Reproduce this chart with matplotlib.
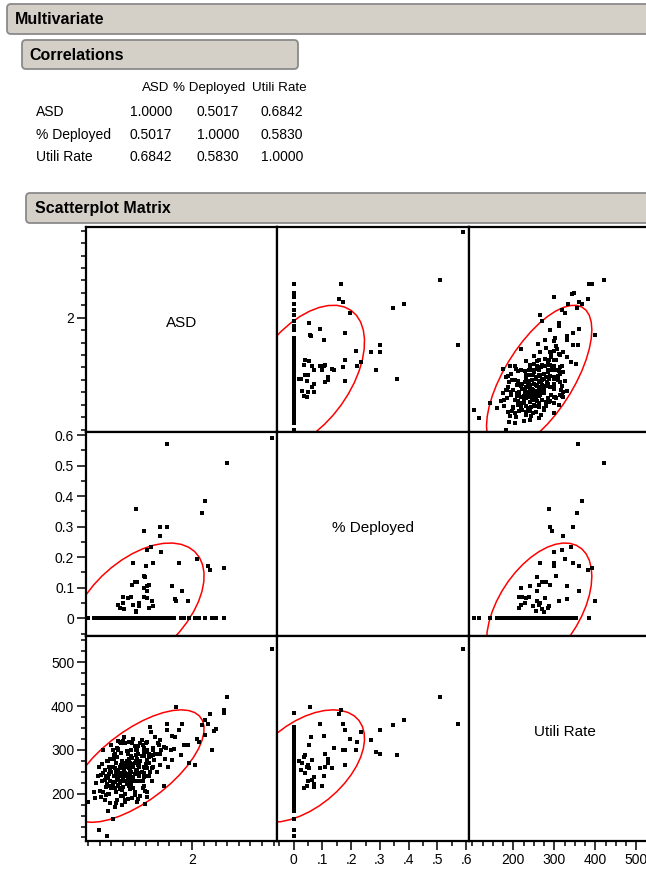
import numpy as np
import matplotlib
matplotlib.use("Agg")
import matplotlib.pyplot as plt
from matplotlib.patches import FancyBboxPatch
from matplotlib.ticker import MultipleLocator, FixedLocator, FixedFormatter

plt.rcParams['font.family'] = ['Liberation Sans', 'DejaVu Sans']

# ---------------- data ----------------
variables = ["ASD", "% Deployed", "Utili Rate"]
corr_matrix = [[1.0000, 0.5017, 0.6842],
               [0.5017, 1.0000, 0.5830],
               [0.6842, 0.5830, 1.0000]]

# observations with non-zero % Deployed
asd_nz = [2.69, 1.78, 2.30, 2.11, 2.08, 1.51, 1.72, 1.78, 1.58, 1.72,
          1.64, 1.61, 1.73, 2.04, 1.49, 1.66, 1.88, 2.13, 1.60, 2.27,
          2.15, 1.58, 1.59, 1.50, 1.52, 1.48, 1.62, 1.61, 1.82, 1.58,
          1.61, 1.91, 1.40, 1.47, 1.58, 1.44, 1.61, 1.85, 1.86, 1.65,
          1.96, 1.54, 1.40, 1.36, 1.49, 1.54, 1.66, 1.62, 1.37, 1.41,
          1.51, 1.51]
dep_nz = [0.590, 0.570, 0.510, 0.385, 0.345, 0.358, 0.300, 0.300, 0.285, 0.268,
          0.233, 0.222, 0.217, 0.195, 0.180, 0.180, 0.180, 0.170, 0.170, 0.166,
          0.158, 0.140, 0.135, 0.120, 0.118, 0.110, 0.110, 0.106, 0.106, 0.100,
          0.090, 0.090, 0.070, 0.070, 0.070, 0.065, 0.065, 0.062, 0.058, 0.055,
          0.055, 0.050, 0.050, 0.045, 0.045, 0.040, 0.040, 0.035, 0.035, 0.030,
          0.025, 0.020]
util_nz = [530, 358, 420, 368, 356, 288, 290, 345, 295, 322,
           340, 318, 300, 325, 265, 300, 345, 360, 300, 392,
           382, 305, 258, 270, 280, 262, 290, 240, 332, 218,
           258, 360, 215, 222, 238, 232, 278, 330, 398, 258,
           312, 265, 228, 218, 262, 248, 288, 284, 213, 270,
           255, 275]

# observations with zero % Deployed
asd_z = [2.27, 2.20, 2.19, 2.17, 2.11, 2.06, 2.02, 1.97, 1.93, 1.84, 1.90,
         1.10, 1.15, 1.17, 1.19, 1.18, 1.20, 1.16, 1.19,
         1.21, 1.22, 1.23, 1.24, 1.25, 1.26, 1.27, 1.22, 1.24, 1.25,
         1.26, 1.27, 1.28, 1.28, 1.29, 1.29, 1.30, 1.30, 1.23, 1.26,
         1.27, 1.28, 1.29, 1.21, 1.24,
         1.31, 1.31, 1.32, 1.32, 1.33, 1.33, 1.34, 1.34, 1.35, 1.35,
         1.36, 1.36, 1.36, 1.37, 1.37, 1.37, 1.38, 1.38, 1.38, 1.39,
         1.39, 1.39, 1.40, 1.40, 1.40, 1.31, 1.32, 1.33, 1.34, 1.35,
         1.36, 1.38, 1.39, 1.33, 1.37,
         1.41, 1.41, 1.42, 1.42, 1.42, 1.43, 1.43, 1.44, 1.44, 1.45,
         1.45, 1.46, 1.46, 1.47, 1.47, 1.48, 1.48, 1.49, 1.49, 1.50,
         1.50, 1.41, 1.43, 1.44, 1.46, 1.47, 1.48, 1.45, 1.42, 1.49,
         1.51, 1.51, 1.52, 1.53, 1.53, 1.54, 1.54, 1.55, 1.55, 1.56,
         1.57, 1.57, 1.58, 1.58, 1.59, 1.59, 1.60, 1.60, 1.52, 1.56,
         1.58, 1.53,
         1.61, 1.61, 1.62, 1.63, 1.63, 1.64, 1.65, 1.66, 1.66, 1.67,
         1.68, 1.68, 1.69, 1.70, 1.62,
         1.71, 1.71, 1.72, 1.73, 1.75, 1.75, 1.76, 1.77, 1.79, 1.81, 1.82,
         1.23, 1.25, 1.27, 1.29, 1.30, 1.31, 1.32, 1.33, 1.34, 1.35,
         1.35, 1.36, 1.37, 1.38, 1.39, 1.40, 1.41, 1.42, 1.43, 1.44,
         1.45, 1.46, 1.47, 1.48, 1.49, 1.50, 1.51, 1.52, 1.53, 1.54,
         1.55, 1.56, 1.57, 1.58, 1.59, 1.60, 1.61, 1.62, 1.26, 1.28,
         1.32, 1.34, 1.36, 1.38, 1.40, 1.42, 1.44, 1.46, 1.48, 1.50]
util_z = [384, 347, 342, 300, 334, 318, 266, 270, 312, 302, 289,
          182, 205, 225, 116, 240, 207, 190, 262,
          192, 230, 248, 232, 215, 104, 160, 268, 255, 240,
          222, 199, 262, 244, 280, 230, 212, 250, 205, 275,
          236, 218, 254, 243, 186,
          143, 299, 240, 226, 258, 212, 270, 246, 232, 284,
          299, 255, 220, 318, 241, 262, 315, 230, 248, 275,
          208, 258, 237, 268, 195, 262, 280, 226, 205, 250,
          238, 265, 242, 290, 225,
          252, 228, 316, 181, 262, 245, 275, 235, 290, 258,
          218, 270, 240, 300, 250, 228, 282, 262, 212, 245,
          308, 240, 222, 265, 255, 236, 268, 280, 248, 238,
          272, 230, 255, 187, 290, 262, 240, 315, 275, 250,
          311, 228, 285, 262, 207, 240, 295, 268, 300, 285,
          248, 266,
          299, 192, 270, 352, 250, 285, 230, 305, 262, 278,
          291, 330, 250, 315, 240,
          291, 312, 265, 300, 306, 218, 280, 305, 260, 299, 278,
          300, 196, 275, 178, 312, 220, 288, 170, 250, 305,
          185, 320, 210, 292, 175, 268, 330, 200, 298, 188,
          318, 215, 285, 190, 325, 205, 300, 182, 310, 230,
          195, 322, 212, 298, 176, 315, 205, 290, 235, 200,
          286, 178, 302, 194, 320, 185, 298, 210, 315, 196]
dep_zero_value = 0.0

asd = np.array(asd_nz + asd_z)
dep = np.array(dep_nz + [dep_zero_value] * len(asd_z))
util = np.array(util_nz + util_z)
series = [asd, dep, util]

limits = [(1.08, 2.73), (-0.058, 0.61), (92, 560)]
major_ticks = [[2], [0, 0.1, 0.2, 0.3, 0.4, 0.5, 0.6], [200, 300, 400, 500]]
left_labels = [["2"], ["0", "0.1", "0.2", "0.3", "0.4", "0.5", "0.6"], ["200", "300", "400", "500"]]
bottom_labels = [["2"], ["0", ".1", ".2", ".3", ".4", ".5", ".6"], ["200", "300", "400", "500"]]
minor_steps = [0.1, 0.05, 25]

# ---------------- layout ----------------
W, H = 646, 871
fig = plt.figure(figsize=(W / 100, H / 100), dpi=100)
fig.patch.set_facecolor("white")

bg = fig.add_axes([0, 0, 1, 1])
bg.set_xlim(0, W)
bg.set_ylim(H, 0)
bg.axis("off")

bar_face = "#d4d0c8"
bar_edge = "#8a8a8a"


def header(x, y, w, h, text, tx):
    p = FancyBboxPatch((x, y), w, h, boxstyle="round,pad=0,rounding_size=4",
                       facecolor=bar_face, edgecolor=bar_edge, linewidth=1.3)
    bg.add_patch(p)
    bg.text(tx, y + h / 2 + 0.5, text, fontsize=11.5, fontweight="bold",
            va="center", ha="left", color="black")


header(7, 4, 700, 30, "Multivariate", 15)
header(22, 40, 276, 29, "Correlations", 29)
header(26, 193, 700, 30, "Scatterplot Matrix", 35)

# correlation table
head_x = [169, 173, 307]
head_ha = ["right", "left", "right"]
val_right = [172, 239, 303]
row_y = [112, 135, 157]
for name, xr, ha in zip(variables, head_x, head_ha):
    bg.text(xr, 88, name, fontsize=9.6, ha=ha, va="center")
for i, name in enumerate(variables):
    bg.text(36, row_y[i], name, fontsize=10, ha="left", va="center")
    for j in range(3):
        bg.text(val_right[j], row_y[i], f"{corr_matrix[i][j]:.4f}", fontsize=10,
                ha="right", va="center")

# scatterplot matrix cells (pixel boxes)
col_x = [86, 277, 469, 661]
row_y_px = [227, 432, 636, 841]


def ellipse_pts(x, y, level=0.95, n=40):
    mx, my = np.mean(x), np.mean(y)
    cov = np.cov(x, y)
    vals, vecs = np.linalg.eigh(cov)
    r = np.sqrt(-2 * np.log(1 - level))
    t = np.linspace(0, 2 * np.pi, n + 1)
    circ = np.vstack([np.cos(t), np.sin(t)])
    pts = vecs @ (np.sqrt(vals)[:, None] * circ) * r
    return pts[0] + mx, pts[1] + my


for r in range(3):
    for c in range(3):
        x0, x1 = col_x[c], col_x[c + 1]
        y0, y1 = row_y_px[r], row_y_px[r + 1]
        ax = fig.add_axes([x0 / W, (H - y1) / H, (x1 - x0) / W, (y1 - y0) / H])
        ax.set_xlim(*limits[c])
        ax.set_ylim(*limits[r])
        for s in ax.spines.values():
            s.set_linewidth(1.6)
            s.set_color("black")
        ax.tick_params(which="both", direction="out", width=1.1, color="black",
                       labelsize=10, pad=2)
        ax.tick_params(which="major", length=6.5)
        ax.tick_params(which="minor", length=3.5)
        # y axis
        if c == 0:
            ax.yaxis.set_major_locator(FixedLocator(major_ticks[r]))
            ax.yaxis.set_major_formatter(FixedFormatter(left_labels[r]))
            ax.yaxis.set_minor_locator(MultipleLocator(minor_steps[r]))
        else:
            ax.tick_params(axis="y", which="both", left=False, labelleft=False)
        # x axis
        if r == 2:
            ax.xaxis.set_major_locator(FixedLocator(major_ticks[c]))
            ax.xaxis.set_major_formatter(FixedFormatter(bottom_labels[c]))
            ax.xaxis.set_minor_locator(MultipleLocator(minor_steps[c]))
        else:
            ax.tick_params(axis="x", which="both", bottom=False, labelbottom=False)

        if r == c:
            ax.text(0.5, 0.53, variables[r], transform=ax.transAxes, fontsize=11,
                    ha="center", va="center")
            continue
        xs, ys = series[c], series[r]
        ax.scatter(xs, ys, s=5.3, marker="s", c="black", linewidths=0, zorder=3)
        ex, ey = ellipse_pts(xs, ys)
        ax.plot(ex, ey, color="#ff0000", lw=1.1, zorder=2)

fig.savefig("out.png", dpi=100, facecolor="white")
